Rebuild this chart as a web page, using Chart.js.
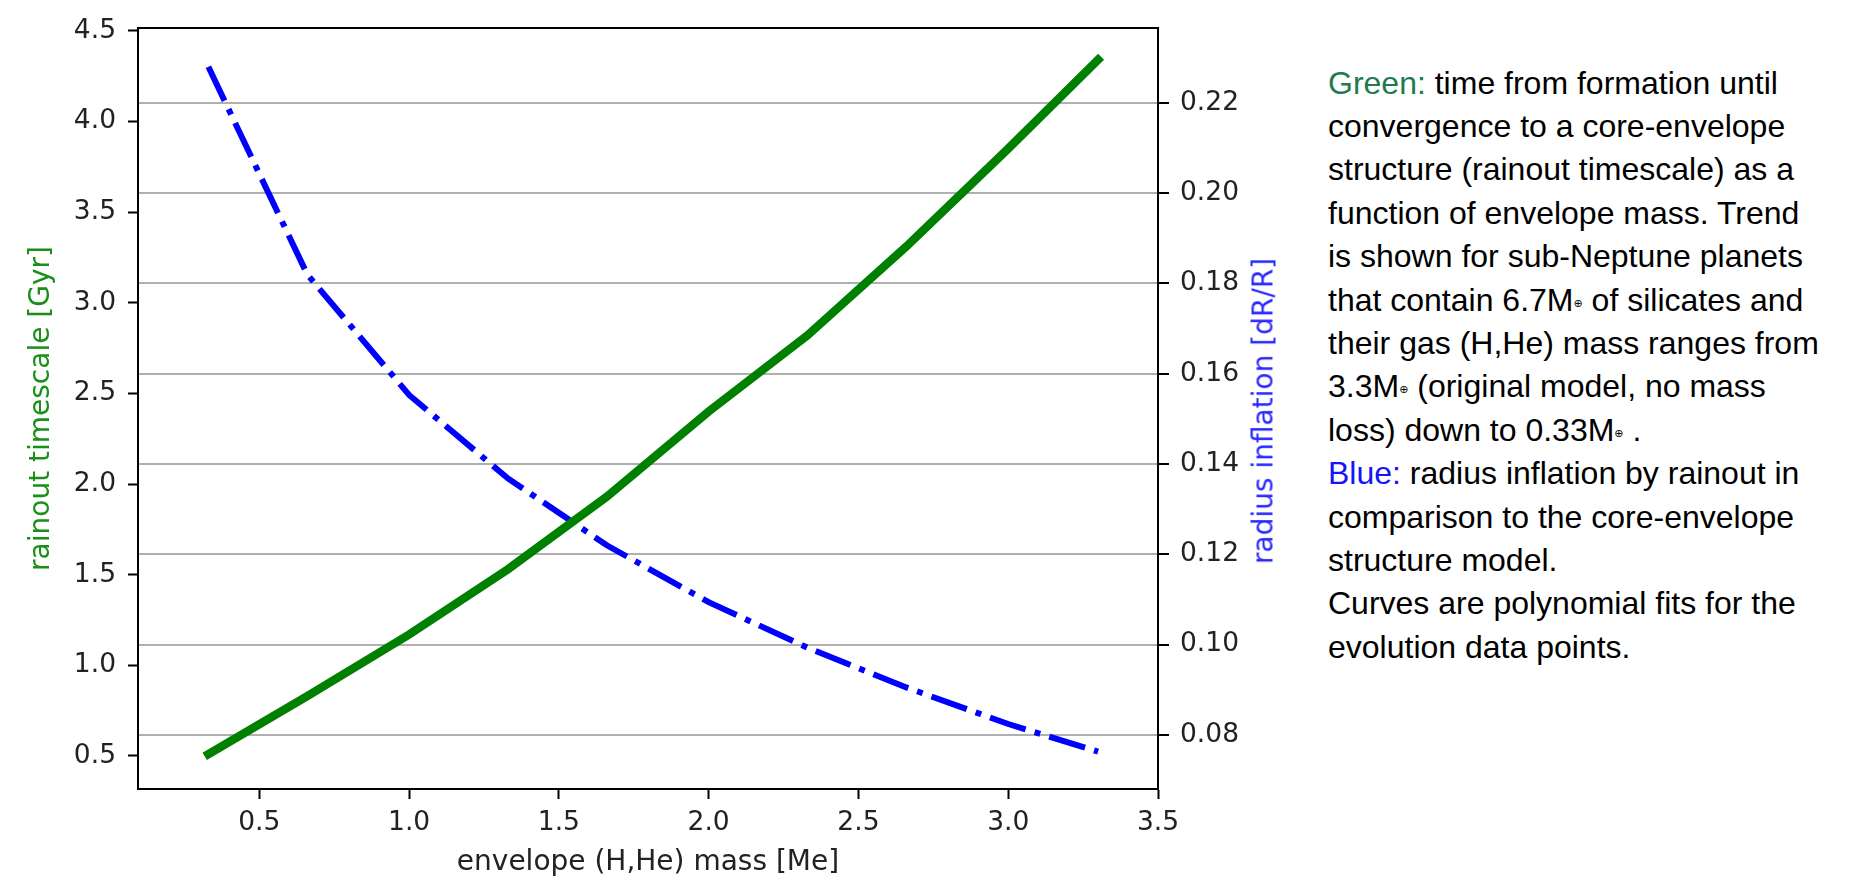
<!DOCTYPE html>
<html>
<head>
<meta charset="utf-8">
<script src="https://cdn.jsdelivr.net/npm/chart.js@4/dist/chart.umd.min.js"></script>
<style>
html,body{margin:0;padding:0;background:#fff;width:1874px;height:882px;overflow:hidden;}
#wrap{position:absolute;left:0;top:0;width:1300px;height:882px;}
#note{position:absolute;left:1328px;top:61.5px;font-family:"Liberation Sans",Arial,sans-serif;font-size:32px;line-height:43.4px;color:#000;white-space:nowrap;}
.g{color:#1e7b4f}
.b{color:#1414fa}
.e{font-size:11px;line-height:0;position:relative;top:-4px;font-family:"DejaVu Sans",sans-serif;}
#rlab{position:absolute;left:1263px;top:411px;transform:translate(-50%,-50%) rotate(-90deg);font-family:"DejaVu Sans",sans-serif;font-size:28px;color:#2828ff;white-space:nowrap;}
</style>
</head>
<body>
<div id="wrap"><canvas id="c" width="1300" height="882" style="width:1300px;height:882px;"></canvas></div>
<div id="rlab">radius inflation [dR/R]</div>
<div id="note">
<span class="g">Green:</span> time from formation until<br>
convergence to a core-envelope<br>
structure (rainout timescale) as a<br>
function of envelope mass. Trend<br>
is shown for sub-Neptune planets<br>
that contain 6.7M<span class="e">⊕</span> of silicates and<br>
their gas (H,He) mass ranges from<br>
3.3M<span class="e">⊕</span> (original model, no mass<br>
loss) down to 0.33M<span class="e">⊕</span> .<br>
<span class="b">Blue:</span> radius inflation by rainout in<br>
comparison to the core-envelope<br>
structure model.<br>
Curves are polynomial fits for the<br>
evolution data points.
</div>
<script>
// ---- data ----
const massX = [0.33, 0.66, 1.0, 1.33, 1.66, 2.0, 2.33, 2.66, 3.0, 3.3];
const rainoutGyr = [0.51, 0.83, 1.17, 1.53, 1.93, 2.40, 2.82, 3.31, 3.85, 4.34];
const radiusInflation = [0.228, 0.182, 0.1553, 0.1368, 0.1220, 0.1094, 0.0993, 0.0905, 0.0824, 0.0763];
const xTicks = [0.5, 1.0, 1.5, 2.0, 2.5, 3.0, 3.5];
const leftTicks = [0.5, 1.0, 1.5, 2.0, 2.5, 3.0, 3.5, 4.0, 4.5];
const rightTicks = [0.08, 0.10, 0.12, 0.14, 0.16, 0.18, 0.20, 0.22];

const tickFont = {family: 'DejaVu Sans', size: 26.5};
const titleFont = {family: 'DejaVu Sans', size: 28};

const framePlugin = {
  id: 'frame',
  afterDatasetsDraw(chart) {
    const a = chart.chartArea, ctx = chart.ctx;
    ctx.save();
    ctx.strokeStyle = '#000';
    ctx.lineWidth = 2;
    ctx.strokeRect(a.left, a.top, a.right - a.left, a.bottom - a.top);
    ctx.restore();
  }
};

new Chart(document.getElementById('c'), {
  type: 'line',
  data: {
    datasets: [
      {
        label: 'rainout timescale',
        data: massX.map((x, i) => ({x: x, y: rainoutGyr[i]})),
        yAxisID: 'y',
        borderColor: '#008000',
        borderWidth: 8.5,
        borderCapStyle: 'square',
        pointRadius: 0,
        tension: 0,
        fill: false
      },
      {
        label: 'radius inflation',
        data: massX.map((x, i) => ({x: x, y: radiusInflation[i]})),
        yAxisID: 'y1',
        borderColor: '#0000ff',
        borderWidth: 6,
        borderDash: [37.5, 9.4, 5.9, 9.4],
        borderCapStyle: 'butt',
        pointRadius: 0,
        tension: 0,
        fill: false
      }
    ]
  },
  options: {
    responsive: false,
    animation: false,
    devicePixelRatio: 1,
    layout: {padding: {top: 28, left: 0, right: 0, bottom: 0}},
    plugins: {legend: {display: false}, tooltip: {enabled: false}},
    scales: {
      x: {
        type: 'linear',
        position: 'bottom',
        min: 0.095,
        max: 3.5,
        afterBuildTicks: s => { s.ticks = xTicks.map(v => ({value: v})); },
        afterFit: s => { s.height = 93; },
        grid: {display: true, drawOnChartArea: false, drawTicks: true, tickLength: 10, tickColor: '#000', tickWidth: 2},
        border: {display: true, color: '#000', width: 2},
        ticks: {font: tickFont, color: '#222', padding: 8, maxRotation: 0, autoSkip: false, callback: v => Number(v).toFixed(1)},
        title: {display: true, text: 'envelope (H,He) mass [Me]', font: titleFont, color: '#222', padding: {top: 0, bottom: 2}}
      },
      y: {
        type: 'linear',
        position: 'left',
        min: 0.318,
        max: 4.515,
        afterBuildTicks: s => { s.ticks = leftTicks.map(v => ({value: v})); },
        afterFit: s => { s.width = 138; },
        grid: {display: true, drawOnChartArea: false, drawTicks: true, tickLength: 10, tickColor: '#000', tickWidth: 2},
        border: {display: true, color: '#000', width: 2},
        ticks: {font: tickFont, color: '#222', padding: 12, autoSkip: false, callback: v => Number(v).toFixed(1)},
        title: {display: true, text: 'rainout timescale [Gyr]', font: titleFont, color: '#1a8f1a', padding: {top: 25, bottom: 0}}
      },
      y1: {
        type: 'linear',
        position: 'right',
        min: 0.068,
        max: 0.2366,
        afterBuildTicks: s => { s.ticks = rightTicks.map(v => ({value: v})); },
        afterFit: s => { s.width = 142; },
        grid: {display: true, drawOnChartArea: true, color: '#b0b0b0', lineWidth: 2, drawTicks: true, tickLength: 11, tickColor: '#000', tickWidth: 2},
        border: {display: true, color: '#000', width: 2},
        ticks: {font: tickFont, color: '#222', padding: 11, autoSkip: false, callback: v => Number(v).toFixed(2)},
        title: {display: false}
      }
    }
  },
  plugins: [framePlugin]
});
</script>
</body>
</html>
